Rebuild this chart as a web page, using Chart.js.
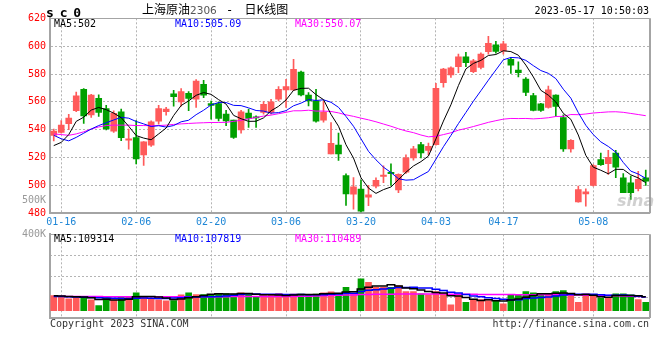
<!DOCTYPE html>
<html>
<head>
<meta charset="utf-8">
<script src="https://cdn.jsdelivr.net/npm/chart.js@4.4.1/dist/chart.umd.min.js"></script>
<style>
html,body{margin:0;padding:0;background:#fff;}
#wrap{position:relative;width:660px;height:360px;overflow:hidden;}
canvas{position:absolute;left:0;}
.t{position:absolute;font:10px/10px "DejaVu Sans Mono",monospace;white-space:pre;color:#000;}
</style>
</head>
<body>
<div id="wrap">
<canvas id="main" width="660" height="232" style="top:0"></canvas>
<canvas id="vol" width="660" height="120" style="top:220px"></canvas>
<div class="t" style="left:46px;top:6px;font:bold 13px/13px 'DejaVu Sans Mono',monospace;letter-spacing:-1px">s c 0</div>
<div class="t" style="left:142px;top:2px;font:12px/14px 'Noto Sans CJK SC',sans-serif">上海原油<span style="font:10.5px/14px 'DejaVu Sans',sans-serif;color:#555">2306</span><span style="font:12px/14px 'DejaVu Sans Mono',monospace;letter-spacing:2px"> - </span>日K线图</div>
<div class="t" style="right:11px;top:6px">2023-05-17 10:50:03</div>
<div class="t" id="ma5t" style="left:54px;top:19px;color:#000"></div>
<div class="t" id="ma10t" style="left:175px;top:19px;color:#0000ff"></div>
<div class="t" id="ma30t" style="left:295px;top:19px;color:#ff00ff"></div>
<div class="t" id="vma5t" style="left:54px;top:234px;color:#000"></div>
<div class="t" id="vma10t" style="left:175px;top:234px;color:#0000ff"></div>
<div class="t" id="vma30t" style="left:295px;top:234px;color:#ff00ff"></div>
<div class="t" style="right:614px;top:195px;color:#999">500K</div>
<div class="t" style="left:50px;top:319px;color:#333">Copyright 2023 SINA.COM</div>
<div class="t" style="right:11px;top:319px;color:#333">http://finance.sina.com.cn</div>
<div class="t" style="left:617px;top:193px;font:italic bold 16px/16px 'DejaVu Sans',sans-serif;color:rgba(150,150,150,0.45)">sina</div>
</div>
<script>
const dates = ['01-13','01-16','01-17','01-18','01-19','01-20','01-30','01-31','02-01','02-02','02-03','02-06','02-07','02-08','02-09','02-10','02-13','02-14','02-15','02-16','02-17','02-20','02-21','02-22','02-23','02-24','02-27','02-28','03-01','03-02','03-03','03-06','03-07','03-08','03-09','03-10','03-13','03-14','03-15','03-16','03-17','03-20','03-21','03-22','03-23','03-24','03-27','03-28','03-29','03-30','03-31','04-03','04-04','04-06','04-07','04-10','04-11','04-12','04-13','04-14','04-17','04-18','04-19','04-20','04-21','04-24','04-25','04-26','04-27','04-28','05-04','05-05','05-08','05-09','05-10','05-11','05-12','05-15','05-16','05-17'];
const tickDates = ['01-16','02-06','02-20','03-06','03-20','04-03','04-17','05-08'];

const openP = [536,538,544.3,553.6,569,550.7,562.6,555.2,539,552.9, 532.5,534.4,522,529,546.2,552.9,565.7,560,566.2,562, 572.6,558.8,558.8,551.2,546.9,539.8,551.9,549,552.4,552.4, 561.9,568.6,568.6,581.4,564.8,560.7,546.9,522.6,529,507, 493.8,497.4,491.5,499.5,506.5,509.5,496.7,509.5,519.8,529.3, 525.2,529.3,573.8,579.3,585.2,592.4,581.7,584.8,596,601, 596.5,590.5,582.9,576.4,564.5,558.6,556,564.8,548.8,526.2, 488.1,494,500,518.6,515.7,523.3,505.5,501.9,497.6,505.5];
const closeP = [539,543.3,548.3,564.3,550,564.8,552.4,540.5,551.7,534.3, 533.5,519,531.4,545.7,555.2,554.8,563.8,567.4,562.4,575, 564.8,557.5,548.1,546.4,534.5,552.9,548.1,548.5,558.3,560, 569,571,583.3,565,560.7,546.2,552.7,530.3,522.6,494, 499,481.6,493.3,503.6,507.5,508.5,507.9,519.8,526.2,523.3, 528.1,569.8,583.6,584.5,592.4,588.1,589.5,594.3,602,596.3, 601.6,586.4,581,566.7,553.8,553.8,568.6,556.7,526.2,532.4, 497.1,495.5,514.3,515,520.2,513.1,494.8,494.8,504.3,503.1];
const highP = [540.5,546.5,551,567,569.5,565.5,565,557.6,553.6,554.8, 540.5,546.5,531.5,546.4,557.6,556,568.3,569.5,567.4,576, 575.5,560.5,560,554,547,554,554.8,550,560.2,561.9, 571,576.2,590.5,582.1,566.7,569,560.5,545.2,537.6,508.3, 505.7,503.8,500,505.5,514,515.5,508.3,522,528.1,531, 530.5,573.3,584,585.2,594.3,595.5,590.5,595.2,607,603.4, 603.5,592,588.8,577.4,566.2,559,571.4,565,550.7,532.9, 499.5,497.6,515,523.3,525.2,525.2,508.6,506.7,510.2,511];
const lowP = [532,537.5,540,553,544.5,548.8,549.5,539.8,538,532.1, 526,515.5,514.3,528,544,550.5,557,557,553.6,556, 563,547.6,546.4,543,533.8,537.6,541.7,541.7,551.2,551.2, 560.7,556,568,564.3,557.1,545.5,545.5,522.6,517.9,485.7, 483,481,485.5,498.3,502,500,494.8,508.6,518.1,519.8, 522,529,570.5,577.6,581,585.2,581,583.6,594.3,595, 594.3,580.5,578,564.5,553.5,553.1,555.5,549.5,524.5,523.8, 488,485.2,499.5,514.3,507.9,505.5,494.8,490,496,500];

const ma5 = [528.6,530.9,536.5,546,549.0,554.1,556.0,554.4,551.9,548.7, 542.5,535.8,534.0,532.8,537.0,541.2,550.2,557.4,560.7,564.7, 566.7,565.4,561.6,558.4,550.3,547.9,546.0,546.1,548.5,553.6, 556.8,561.4,568.3,569.7,569.8,565.2,561.6,551.0,542.5,529.2, 519.7,505.5,498.1,494.3,497.0,498.9,504.2,509.5,514.0,517.1, 521.1,533.4,546.2,557.9,571.7,583.7,587.6,589.8,593.3,594.0, 596.7,596.1,593.5,586.4,577.9,568.3,564.8,559.9,551.8,547.5, 536.2,521.6,513.1,510.9,508.4,511.6,511.5,507.6,505.4,502];
const ma10 = [536,533.5,532,534.5,537.5,540.5,543,545,547,548.9, 548.3,545.9,544.2,542.3,542.9,541.9,543.0,545.7,546.8,550.8, 554.0,557.8,559.5,559.5,557.5,557.3,555.7,553.8,553.4,551.9, 552.3,553.7,557.2,559.1,561.7,561.0,561.5,559.7,556.1,549.5, 542.5,533.5,524.5,518.4,513.1,509.3,504.8,503.8,504.1,507.1, 510.0,518.8,527.8,535.9,544.4,552.4,560.5,568.0,575.6,582.9, 590.2,591.9,591.6,589.8,586.0,582.5,580.5,576.7,569.1,562.7, 552.3,543.2,536.5,531.3,528.0,523.9,516.5,510.3,508.2,505.09];
const ma30 = [537,536.5,536,537,538.5,540.5,542,543,543.3,543.3, 543.3,543,543,542.9,543,543.3,543.8,544.2,544.5,544.8, 545,545.2,545.2,545.3,546,546.8,547.8,548.8,549.8,550.5, 551.5,552.5,553.6,553.6,554.0,553.4,553.4,553.1,552.1,550.7, 549.6,548.3,547.1,545.7,544.1,542.5,540.7,539.1,537.9,536.2, 534.9,535.3,536.5,537.8,539.7,540.9,542.3,543.8,545.3,546.5, 547.6,548.1,548.0,548.1,547.8,548.1,548.6,549.5,549.6,550.9, 550.8,551.3,552.0,552.4,552.8,552.9,552.5,551.7,550.9,550.07];

const volume = [120000,110000,94000,110000,110000,86000,40000,102000,86000,110000,110000,142000,110000,90000,86000,78000,80000,125000,142000,128000,128000,130000,138000,135000,132000,142000,130000,110000,120000,125000,136000,112000,132000,132000,128000,132000,142000,150000,134000,184000,134000,252000,224000,184000,184000,184000,197000,152000,152000,134000,126000,152000,134000,47000,118000,66000,87000,87000,79000,74000,55000,126000,126000,152000,142000,121000,126000,152000,158000,126000,66000,134000,126000,100000,105000,134000,134000,126000,87000,66000];
const volMa5 = [118000,117000,113000,110000,108800,102000,88000,89600,84800,84800,89600,110000,111600,112400,107600,101200,88800,91800,102200,110600,120600,130600,133200,131800,132600,135400,135400,129800,126800,125400,124200,120600,125000,127400,128000,127200,133200,136800,137200,148400,148800,170800,185600,195600,195600,205600,194600,180200,173800,163800,152200,143200,139600,118600,115400,103400,90400,81000,87400,78600,76400,84200,92000,106600,120200,133400,133400,138600,139800,136600,125600,127200,122000,110400,106200,119800,119800,119800,117200,109314];
const volMa10 = [112000,112000,110000,108000,106000,104000,102000,100000,98000,96800,95800,99000,100600,98600,96200,95400,99400,101700,107300,109100,110900,109700,112500,117000,121600,128000,133000,131500,129300,129000,129800,128000,127400,127100,126700,125700,126900,130900,132300,138200,138000,152000,161200,166400,172000,177200,182700,182900,184700,179700,178900,168900,159900,146200,139600,127800,116800,110300,103000,97000,89900,87300,86500,97000,99400,104900,108800,115300,123200,128400,129500,130300,130300,125100,121400,122700,123500,120900,113800,107819];
const volMa30 = [114000,114000,113000,113000,113000,112000,112000,111000,111000,111000,110000,110000,110000,110000,110000,110000,110000,110000,110000,111000,111000,111000,111000,111000,112000,112000,112000,112000,112000,112000,112000,112000,113000,114000,115000,116000,118000,120000,122000,124000,125000,127000,128000,129000,130000,130000,131000,131000,131000,131000,131000,131000,131000,130000,130000,129000,129000,128000,128000,127000,127000,127000,126000,126000,126000,126000,126000,126000,126000,125000,124000,123000,122000,121000,120000,118000,116000,115000,113000,110489];

const RED = '#ff5a5a', GREEN = '#00a000', GRID = '#b4b4b4', FRAME = '#a4a4a4';
const candleColors = closeP.map((c, i) => c >= openP[i] ? RED : GREEN);
const bodies = openP.map((o, i) => [Math.min(o, closeP[i]), Math.max(o, closeP[i])]);
const wicks = lowP.map((l, i) => [l, highP[i]]);
const last = a => a[a.length - 1];

document.getElementById('ma5t').textContent = 'MA5:' + last(ma5);
document.getElementById('ma10t').textContent = 'MA10:' + last(ma10);
document.getElementById('ma30t').textContent = 'MA30:' + last(ma30);
document.getElementById('vma5t').textContent = 'MA5:' + last(volMa5);
document.getElementById('vma10t').textContent = 'MA10:' + last(volMa10);
document.getElementById('vma30t').textContent = 'MA30:' + last(volMa30);

Chart.defaults.font.family = "'DejaVu Sans Mono', monospace";
Chart.defaults.font.size = 10;

const framePlugin = {
  id: 'frame',
  afterDraw(chart) {
    const {ctx, chartArea: {left, right, top, bottom}} = chart;
    ctx.save();
    ctx.strokeStyle = FRAME;
    ctx.lineWidth = 1;
    ctx.beginPath();
    ctx.moveTo(left, Math.round(top) + 0.5);
    ctx.lineTo(right, Math.round(top) + 0.5);
    ctx.stroke();
    ctx.lineWidth = 2;
    ctx.beginPath();
    ctx.moveTo(Math.round(right), top);
    ctx.lineTo(Math.round(right), bottom);
    ctx.stroke();
    ctx.restore();
  }
};
const keepDateTicks = axis => { axis.ticks = axis.ticks.filter(t => tickDates.includes(dates[t.value])); };
const line = (data, color, w, extra) => Object.assign({type: 'line', data, borderColor: color, borderWidth: w, pointRadius: 0, tension: 0, order: 0, yAxisID: 'y'}, extra || {});

new Chart(document.getElementById('main'), {
  type: 'bar',
  data: {
    labels: dates,
    datasets: [
      line(ma5, '#000000', 1),
      line(ma10, '#0000ff', 1),
      line(ma30, '#ff00ff', 1),
      {data: bodies, backgroundColor: candleColors, barThickness: 6, minBarLength: 1, grouped: false, order: 1, yAxisID: 'y'},
      {data: wicks, backgroundColor: candleColors, barThickness: 1, grouped: false, order: 2, yAxisID: 'y'}
    ]
  },
  options: {
    responsive: false, animation: false, events: [],
    layout: {padding: {left: 0, right: 10.5, top: 18.3, bottom: 2.7}},
    plugins: {legend: {display: false}, tooltip: {enabled: false}},
    scales: {
      x: {
        offset: true,
        grid: {offset: false, color: GRID, drawTicks: false},
        border: {display: true, color: FRAME, width: 2, dash: [2, 2]},
        ticks: {autoSkip: false, maxRotation: 0, minRotation: 0, color: '#1e86d6', padding: 3},
        afterBuildTicks: keepDateTicks,
        afterFit: s => { s.height = 16; }
      },
      y: {
        min: 480, max: 620,
        ticks: {stepSize: 20, color: '#ff0000', padding: 4},
        grid: {color: GRID, drawTicks: false},
        border: {display: true, color: FRAME, width: 2, dash: [2, 2]},
        afterFit: s => { s.width = 50; }
      }
    }
  },
  plugins: [framePlugin]
});

new Chart(document.getElementById('vol'), {
  type: 'bar',
  data: {
    labels: dates,
    datasets: [
      line(volMa5, '#000000', 1.5, {stepped: 'middle'}),
      line(volMa10, '#0000ff', 1.5, {stepped: 'middle'}),
      line(volMa30, '#ff00ff', 1.5, {stepped: 'middle'}),
      {data: volume, backgroundColor: candleColors, barThickness: 6, order: 1, yAxisID: 'y'}
    ]
  },
  options: {
    responsive: false, animation: false, events: [],
    layout: {padding: {left: 0, right: 10.5, top: 14.3, bottom: 22}},
    plugins: {legend: {display: false}, tooltip: {enabled: false}},
    scales: {
      x: {
        offset: true,
        grid: {offset: false, color: GRID, drawTicks: false},
        border: {display: true, color: FRAME, width: 2, dash: [2, 2]},
        ticks: {display: false},
        afterBuildTicks: keepDateTicks,
        afterFit: s => { s.height = 0; }
      },
      y: {
        position: 'left',
        min: -57700, max: 603600,
        ticks: {count: 5, display: false},
        grid: {color: GRID, drawTicks: false},
        border: {display: false, dash: [2, 2]},
        afterFit: s => { s.width = 0; }
      },
      yl: {
        position: 'left',
        min: 72600, max: 400000,
        ticks: {stepSize: 100000, color: '#999999', padding: 4,
                callback: v => (v % 100000 === 0 ? (v / 1000) + 'K' : '')},
        grid: {display: false, drawTicks: false},
        border: {display: true, color: FRAME, width: 2},
        afterFit: s => { s.width = 50; }
      }
    }
  },
  plugins: [framePlugin]
});
</script>
</body>
</html>
